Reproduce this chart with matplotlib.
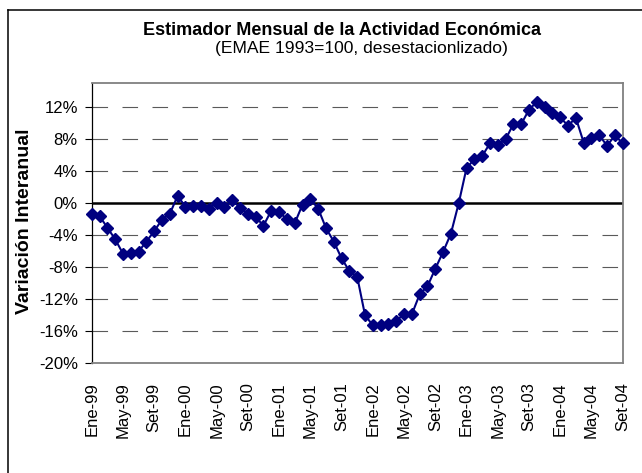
import matplotlib
matplotlib.use("Agg")
import matplotlib.pyplot as plt
from matplotlib.lines import Line2D

plt.rcParams['font.family'] = ['Liberation Sans', 'DejaVu Sans']

title = "Estimador Mensual de la Actividad Económica"
subtitle = "(EMAE 1993=100, desestacionlizado)"
ylabel = "Variación Interanual"

months = ["Ene", "Feb", "Mar", "Abr", "May", "Jun", "Jul", "Ago", "Set", "Oct", "Nov", "Dic"]
years = ["99", "00", "01", "02", "03", "04"]

values = [-1.33, -1.6, -3.05, -4.5, -6.3, -6.2, -6.05, -4.8, -3.5, -2.05, -1.33, 0.92,
          -0.42, -0.33, -0.33, -0.7, 0.04, -0.46, 0.37, -0.54, -1.3, -1.75, -2.8, -0.92,
          -1.1, -2.0, -2.5, -0.17, 0.54, -0.67, -3.1, -4.8, -6.9, -8.5, -9.2, -14.0,
          -15.3, -15.3, -15.1, -14.7, -13.9, -13.9, -11.4, -10.4, -8.2, -6.1, -3.8, 0.0,
          4.4, 5.5, 5.9, 7.5, 7.3, 8.0, 9.9, 9.9, 11.7, 12.7, 12.0, 11.3,
          10.75, 9.7, 10.7, 7.6, 8.2, 8.5, 7.2, 8.5, 7.5]

yticks = [-20, -16, -12, -8, -4, 0, 4, 8, 12]
ytick_labels = ["-20%", "-16%", "-12%", "-8%", "-4%", "0%", "4%", "8%", "12%"]

labels_all = [f"{m}-{y}" for y in years for m in months][:len(values)]
xpos = list(range(len(values)))

W, H = 642, 473
fig = plt.figure(figsize=(W / 100, H / 100), dpi=100)
fig.patch.set_facecolor("white")

# outer chart frame
x0 = 8 / W
ytop = 1 - 10 / H
fig.add_artist(Line2D([x0, x0], [0, ytop], transform=fig.transFigure, color="black", lw=1.1))
fig.add_artist(Line2D([x0, 1.0], [ytop, ytop], transform=fig.transFigure, color="black", lw=1.1))

L, R, T, B = 91.7, 622.7, 83, 363
ax = fig.add_axes([L / W, 1 - B / H, (R - L) / W, (B - T) / H])

for yv in yticks:
    if yv in (0, -20):
        continue
    ax.axhline(yv, color="#5a5a5a", lw=0.8, dashes=(14, 13), zorder=1)
ax.axhline(0, color="black", lw=1.8, zorder=2)

ax.plot(xpos, values, color="#000080", lw=1.5, marker="D", markersize=6.3,
        markerfacecolor="#000080", markeredgecolor="#000080", zorder=3, clip_on=False)

ax.set_xlim(0, len(values) - 1)
ax.set_ylim(-20, 15.05)
ax.set_yticks(yticks)
ax.set_yticklabels(ytick_labels, fontsize=12)
tick_idx = xpos[::4]
ax.set_xticks(tick_idx)
ax.set_xticklabels([labels_all[i] for i in tick_idx], rotation=90, fontsize=12)
ax.tick_params(axis="x", length=0, pad=14)
ax.tick_params(axis="y", length=5, width=0.8, color="black", pad=5, direction="out")

for side in ("top", "right", "bottom"):
    ax.spines[side].set_color("#808080")
    ax.spines[side].set_linewidth(1.3)
ax.spines["left"].set_color("black")
ax.spines["left"].set_linewidth(0.9)

ax.set_ylabel(ylabel, fontsize=14, fontweight="bold")
ax.yaxis.set_label_coords(-(L - 33) / (R - L), (B - 221.7) / (B - T))

fig.text(342 / W, 1 - 30.5 / H, title, ha="center", va="center", fontsize=13, fontweight="bold")
fig.text(362 / W, 1 - 48 / H, subtitle, ha="center", va="center", fontsize=12.6)

fig.savefig("out.png", dpi=100)
